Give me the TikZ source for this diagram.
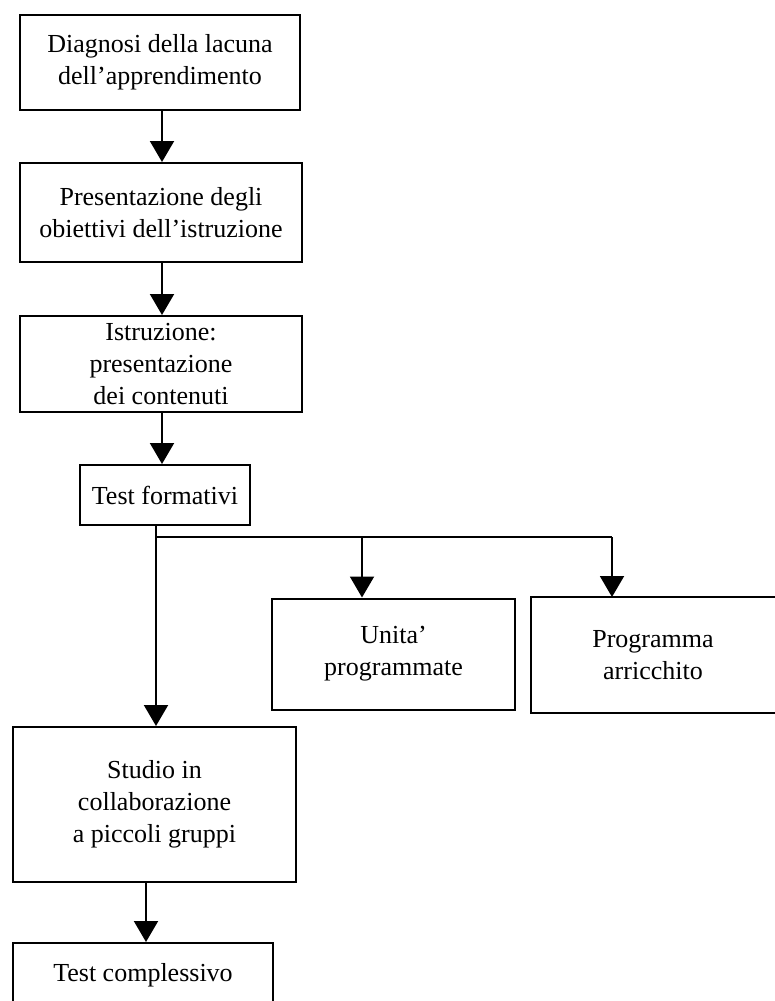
\documentclass[tikz,border=0pt]{standalone}
\usepackage{fontspec}
\setmainfont{Liberation Serif}
\usetikzlibrary{arrows.meta}
\begin{document}
\begin{tikzpicture}[x=1pt,y=-1pt,
  box/.style={draw, line width=2pt, inner sep=0pt, align=center,
    font=\fontsize{26}{32}\selectfont},
  flow/.style={line width=2pt, -{Triangle[width=24pt,length=21pt]}},
  wire/.style={line width=2pt}]
\useasboundingbox (0,0) rectangle (775,1001);

% main column of steps
\node[box, minimum width=280pt, minimum height=95pt] (b1) at (160,62.5)
  {Diagnosi della lacuna\\dell'apprendimento};
\node[box, minimum width=282pt, minimum height=99pt] (b2) at (161,212.5)
  {Presentazione degli\\obiettivi dell'istruzione};
\node[box, minimum width=282pt, minimum height=96pt] (b3) at (161,364)
  {Istruzione:\\presentazione\\dei contenuti};
\node[box, minimum width=170pt, minimum height=60pt] (b4) at (165,495)
  {Test formativi};

% alternative paths
\node[box, minimum width=243pt, minimum height=111pt] (b5) at (393.5,654)
  {Unita'\\programmate};
% the right-hand box runs past the right margin: only three sides show
\node[box, draw=none, minimum width=242pt, minimum height=114pt] (b6) at (653,655)
  {Programma\\arricchito};
\draw[wire, line cap=rect] ([xshift=40pt]b6.north east) -- (b6.north west)
  -- (b6.south west) -- ([xshift=40pt]b6.south east);
\node[box, minimum width=283pt, minimum height=155pt] (b7) at (154.5,804.5)
  {Studio in\\collaborazione\\a piccoli gruppi};
\node[box, minimum width=260pt, minimum height=64pt] (b8) at (143,975)
  {Test complessivo};

% connectors
\draw[flow] (b1.south -| 162,0) -- (b2.north -| 162,0);
\draw[flow] (b2.south -| 162,0) -- (b3.north -| 162,0);
\draw[flow] (b3.south -| 162,0) -- (b4.north -| 162,0);

\coordinate (split) at (156,537);
\coordinate (ju) at (362,537);
\coordinate (jp) at (612,537);
\draw[flow] (b4.south -| split) -- (b7.north -| split);
\draw[wire] (split) -- (jp);
\draw[flow] (ju) -- (ju |- b5.north);
\draw[flow] (jp) -- (jp |- b6.north);

\draw[flow] (b7.south -| 146,0) -- (b8.north -| 146,0);
\end{tikzpicture}
\end{document}
